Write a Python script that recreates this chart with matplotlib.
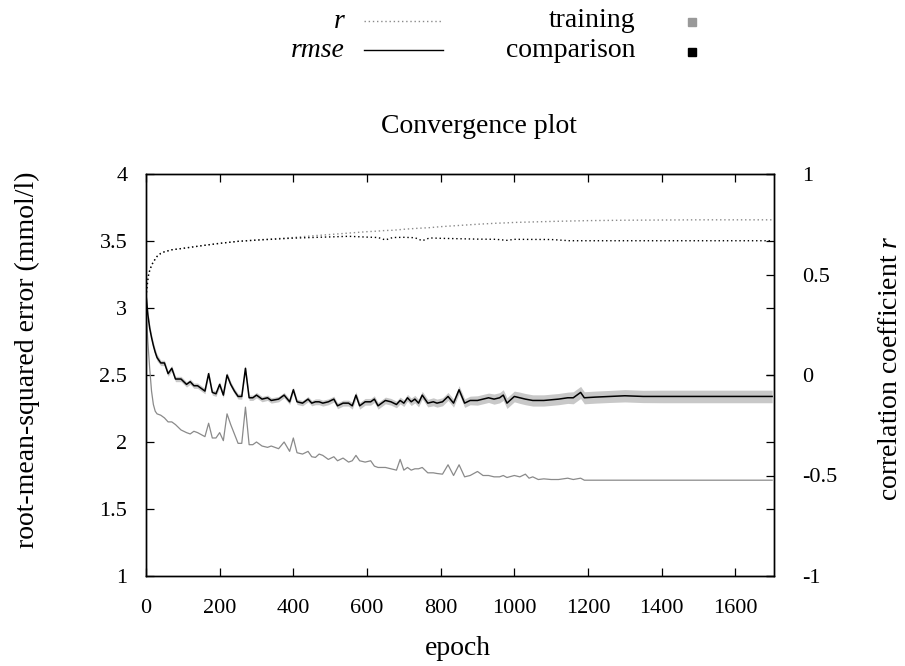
import matplotlib
matplotlib.use("Agg")
import matplotlib.pyplot as plt
import numpy as np
from matplotlib.lines import Line2D

plt.rcParams['font.family'] = ['Liberation Serif', 'DejaVu Serif']
plt.rcParams['mathtext.fontset'] = 'custom'
plt.rcParams['mathtext.rm'] = 'Liberation Serif'
plt.rcParams['mathtext.it'] = 'Liberation Serif:italic'

# ---------------- data ----------------
epoch = [0, 5, 10, 15, 20, 25, 30, 40, 50, 60,
         70, 80, 95, 110, 120, 130, 140, 160, 170, 180,
         190, 200, 210, 220, 230, 240, 250, 260, 270, 280,
         290, 300, 315, 330, 340, 360, 375, 390, 400, 410,
         425, 440, 450, 460, 470, 480, 495, 510, 520, 535,
         550, 560, 570, 580, 595, 610, 620, 630, 650, 665,
         680, 690, 700, 710, 720, 730, 740, 750, 765, 780,
         790, 805, 820, 835, 850, 865, 880, 900, 915, 930,
         945, 960, 970, 980, 1000, 1015, 1030, 1040, 1050, 1065,
         1080, 1100, 1120, 1145, 1160, 1180, 1190, 1220, 1260, 1300,
         1350, 1400, 1450, 1500, 1550, 1600, 1650, 1700]

rmse_comparison = [3.10, 2.95, 2.85, 2.78, 2.72, 2.67, 2.63, 2.59, 2.59, 2.51,
                   2.55, 2.47, 2.47, 2.43, 2.45, 2.42, 2.42, 2.38, 2.51, 2.37,
                   2.36, 2.43, 2.35, 2.50, 2.43, 2.38, 2.34, 2.34, 2.55, 2.33,
                   2.33, 2.35, 2.32, 2.33, 2.31, 2.32, 2.35, 2.30, 2.39, 2.30,
                   2.29, 2.32, 2.29, 2.30, 2.30, 2.29, 2.30, 2.32, 2.27, 2.29,
                   2.29, 2.27, 2.35, 2.27, 2.30, 2.30, 2.32, 2.27, 2.31, 2.30,
                   2.28, 2.31, 2.29, 2.33, 2.30, 2.32, 2.29, 2.35, 2.29, 2.30,
                   2.29, 2.30, 2.34, 2.29, 2.39, 2.29, 2.31, 2.31, 2.32, 2.33,
                   2.32, 2.33, 2.35, 2.29, 2.34, 2.33, 2.32, 2.315, 2.31, 2.31,
                   2.31, 2.315, 2.32, 2.33, 2.33, 2.37, 2.33, 2.335, 2.34, 2.345,
                   2.34, 2.34, 2.34, 2.34, 2.34, 2.34, 2.34, 2.34]

rmse_comparison_err = [0.03, 0.03, 0.03, 0.025, 0.025, 0.025, 0.025, 0.02, 0.02, 0.02,
                       0.02, 0.02, 0.02, 0.02, 0.02, 0.02, 0.02, 0.02, 0.02, 0.02,
                       0.02, 0.02, 0.02, 0.02, 0.02, 0.02, 0.02, 0.02, 0.02, 0.02,
                       0.02, 0.02, 0.02, 0.02, 0.02, 0.02, 0.02, 0.02, 0.02, 0.02,
                       0.02, 0.02, 0.02, 0.022, 0.022, 0.022, 0.022, 0.022, 0.022, 0.022,
                       0.022, 0.025, 0.025, 0.025, 0.025, 0.025, 0.025, 0.025, 0.025, 0.025,
                       0.025, 0.025, 0.025, 0.025, 0.028, 0.028, 0.028, 0.028, 0.028, 0.03,
                       0.03, 0.03, 0.03, 0.03, 0.03, 0.032, 0.032, 0.035, 0.035, 0.035,
                       0.038, 0.038, 0.04, 0.04, 0.04, 0.042, 0.042, 0.042, 0.042, 0.042,
                       0.042, 0.042, 0.042, 0.042, 0.045, 0.045, 0.045, 0.045, 0.045, 0.046,
                       0.046, 0.047, 0.047, 0.047, 0.047, 0.047, 0.047, 0.047]

rmse_training = [3.00, 2.75, 2.55, 2.38, 2.28, 2.23, 2.21, 2.20, 2.18, 2.15,
                 2.15, 2.13, 2.09, 2.07, 2.06, 2.08, 2.07, 2.04, 2.14, 2.03,
                 2.03, 2.07, 2.01, 2.21, 2.13, 2.06, 1.99, 1.99, 2.26, 1.98,
                 1.98, 2.00, 1.97, 1.96, 1.97, 1.95, 2.00, 1.93, 2.03, 1.92,
                 1.91, 1.93, 1.89, 1.885, 1.91, 1.90, 1.87, 1.89, 1.86, 1.88,
                 1.85, 1.86, 1.90, 1.86, 1.85, 1.86, 1.82, 1.81, 1.81, 1.80,
                 1.79, 1.87, 1.79, 1.81, 1.79, 1.80, 1.80, 1.81, 1.77, 1.77,
                 1.765, 1.76, 1.83, 1.75, 1.83, 1.74, 1.75, 1.78, 1.75, 1.75,
                 1.74, 1.74, 1.75, 1.735, 1.75, 1.74, 1.76, 1.73, 1.74, 1.72,
                 1.725, 1.72, 1.72, 1.73, 1.72, 1.73, 1.715, 1.715, 1.715, 1.715,
                 1.715, 1.715, 1.715, 1.715, 1.715, 1.715, 1.715, 1.715]

r_epoch = [0, 3, 6, 10, 15, 20, 30, 40, 50, 70, 100, 150, 200, 250, 300, 350, 400,
           450, 500, 550, 600, 630, 650, 670, 700, 730, 750, 770, 800, 850, 900,
           950, 980, 1000, 1100, 1150, 1200, 1300, 1400, 1500, 1600, 1700]

r_training = [0.39, 0.44, 0.49, 0.52, 0.545, 0.563, 0.59, 0.605, 0.613, 0.623, 0.63,
              0.643, 0.655, 0.665, 0.672, 0.678, 0.684, 0.692, 0.699, 0.706, 0.713,
              0.716, 0.719, 0.720, 0.725, 0.729, 0.731, 0.733, 0.738, 0.744, 0.750,
              0.755, 0.757, 0.759, 0.764, 0.766, 0.768, 0.770, 0.771, 0.772, 0.772, 0.772]

r_comparison = [0.39, 0.44, 0.49, 0.52, 0.545, 0.563, 0.59, 0.605, 0.613, 0.623, 0.63,
                0.643, 0.655, 0.665, 0.671, 0.676, 0.681, 0.684, 0.687, 0.690, 0.686,
                0.684, 0.672, 0.684, 0.685, 0.683, 0.668, 0.682, 0.680, 0.678, 0.676,
                0.675, 0.670, 0.675, 0.674, 0.668, 0.668, 0.668, 0.668, 0.668, 0.668, 0.668]

x_ticks = [0, 200, 400, 600, 800, 1000, 1200, 1400, 1600]
y_ticks = [1, 1.5, 2, 2.5, 3, 3.5, 4]
y_ticklabels = ['1', '1.5', '2', '2.5', '3', '3.5', '4']
y2_ticks = [-1, -0.5, 0, 0.5, 1]
y2_ticklabels = ['-1', '-0.5', '0', '0.5', '1']

# ---------------- figure ----------------
W, H = 905, 666
fig = plt.figure(figsize=(W / 100, H / 100), dpi=100)

def fx(px):
    return px / W

def fy(py):
    return 1 - py / H

left, right, top, bottom = 146, 774, 174, 576
ax = fig.add_axes([fx(left), fy(bottom), fx(right) - fx(left), fy(top) - fy(bottom)])
ax2 = ax.twinx()

TICKFS = 16
LABFS = 20
GRAY = '#8a8a8a'

ep = np.array(epoch)
cmp_ = np.array(rmse_comparison)
err = np.array(rmse_comparison_err)

ax.fill_between(ep, cmp_ - err, cmp_ + err, color='#c8c8c8', lw=0, zorder=1)
ax.plot(ep, rmse_training, color=GRAY, lw=0.9, zorder=2)
ax.plot(ep, cmp_, color='black', lw=1.1, zorder=3)

ax2.plot(r_epoch, r_training, color=GRAY, lw=1.0, ls=(0, (1, 2)))
ax2.plot(r_epoch, r_comparison, color='black', lw=1.0, ls=(0, (1, 2)))

ax.set_xlim(0, 1705)
ax.set_ylim(1, 4)
ax2.set_ylim(-1, 1)

ax.set_xticks(x_ticks)
ax.set_xticklabels([str(v) for v in x_ticks])
ax.set_yticks(y_ticks)
ax.set_yticklabels(y_ticklabels)
ax2.set_yticks(y2_ticks)
ax2.set_yticklabels(y2_ticklabels)

ax.tick_params(axis='x', direction='in', length=6, width=0.9, top=True,
               labelsize=TICKFS, pad=16.5)
ax.tick_params(axis='y', direction='in', length=6, width=0.9, right=True,
               labelright=False, labelsize=TICKFS, pad=13.5)
ax2.tick_params(axis='y', direction='in', length=6, width=0.9,
                labelsize=TICKFS, pad=20)
for a in (ax, ax2):
    for s in a.spines.values():
        s.set_linewidth(1.0)

# titles and axis labels
fig.text(fx(479), fy(133), 'Convergence plot', ha='center', va='baseline', fontsize=LABFS)
fig.text(fx(458), fy(655), 'epoch', ha='center', va='baseline', fontsize=LABFS)
fig.text(fx(27), fy(360), 'root-mean-squared error (mmol/l)', rotation=90,
         ha='center', va='center', fontsize=LABFS)
fig.text(fx(890), fy(368), 'correlation coefficient $\\mathit{r}$', rotation=90,
         ha='center', va='center', fontsize=LABFS)

# legend (drawn in figure coordinates)
fig.text(fx(345), fy(28), 'r', style='italic', ha='right', va='baseline', fontsize=LABFS)
fig.text(fx(345), fy(57), 'rmse', style='italic', ha='right', va='baseline', fontsize=LABFS)
fig.add_artist(Line2D([fx(364), fx(443)], [fy(21), fy(21)], color=GRAY, lw=1.0,
                      ls=(0, (1, 2)), transform=fig.transFigure))
fig.add_artist(Line2D([fx(364), fx(443)], [fy(50), fy(50)], color='black', lw=1.0,
                      transform=fig.transFigure))
fig.text(fx(635), fy(27), 'training', ha='right', va='baseline', fontsize=LABFS)
fig.text(fx(635), fy(57), 'comparison', ha='right', va='baseline', fontsize=LABFS)
fig.add_artist(Line2D([fx(692)], [fy(21.5)], marker='s', ms=5.5, color='#999999',
                      ls='none', transform=fig.transFigure))
fig.add_artist(Line2D([fx(692)], [fy(51.5)], marker='s', ms=5.5, color='black',
                      ls='none', transform=fig.transFigure))

fig.savefig('out.png', dpi=100)
